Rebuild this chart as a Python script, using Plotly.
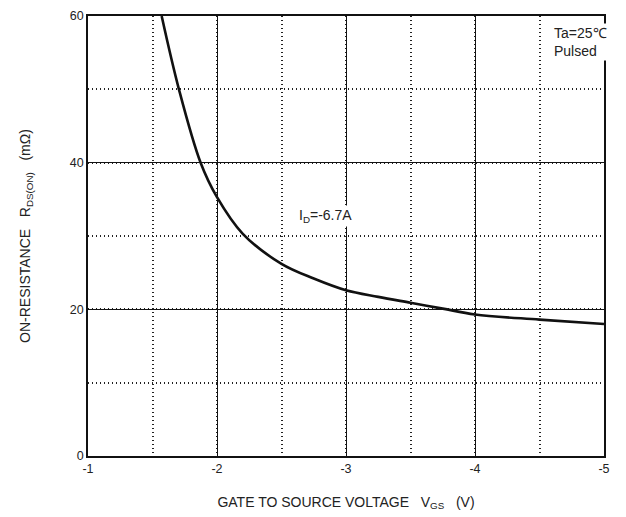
import plotly.graph_objects as go

vgs = [-1.571, -1.705, -1.873, -2.0, -2.2, -2.5, -2.75, -3.0, -3.25, -3.5, -3.75, -4.0, -4.5, -5.0]
rds = [60.0, 50.0, 40.0, 35.3, 30.3, 26.2, 24.2, 22.6, 21.7, 20.9, 20.1, 19.3, 18.6, 18.0]
x_ticks = [-1, -2, -3, -4, -5]
y_ticks = [0, 20, 40, 60]

font_family = "Liberation Sans, Arial, sans-serif"

fig = go.Figure()
fig.add_trace(go.Scatter(x=vgs, y=rds, mode="lines",
                         line=dict(color="#111111", width=2.6, shape="spline", smoothing=1.0),
                         showlegend=False, hoverinfo="skip"))

fig.update_layout(
    width=626, height=517,
    margin=dict(l=88, r=22, t=9, b=61),
    plot_bgcolor="white", paper_bgcolor="white",
    font=dict(family=font_family, size=12, color="#222222"),
    xaxis=dict(range=[-1, -5], tickvals=x_ticks, ticktext=[str(v) for v in x_ticks],
               showgrid=True, gridcolor="#111111", gridwidth=1,
               minor=dict(dtick=0.5, showgrid=True, gridcolor="#222222", griddash="1px,3px", gridwidth=1.5),
               showline=True, linecolor="#111111", linewidth=1.5, mirror=True,
               zeroline=False, ticks="", tickfont=dict(size=12.5),
               title=dict(text="GATE TO SOURCE VOLTAGE   V<sub>GS</sub>   (V)", font=dict(size=14), standoff=22)),
    yaxis=dict(range=[0, 60], tickvals=y_ticks, ticktext=[str(v) for v in y_ticks],
               showgrid=True, gridcolor="#111111", gridwidth=1,
               minor=dict(dtick=10, showgrid=True, gridcolor="#222222", griddash="1px,3px", gridwidth=1.5),
               showline=True, linecolor="#111111", linewidth=1.5, mirror=True,
               zeroline=False, ticks="", tickfont=dict(size=12.5),
               title=dict(text="ON-RESISTANCE   R<sub>DS(ON)</sub>   (mΩ)", font=dict(size=14), standoff=36)),
)

fig.add_annotation(x=-4.6, y=59.0, xref="x", yref="y", text="Ta=25℃<br>Pulsed",
                   showarrow=False, align="left", xanchor="left", yanchor="top",
                   font=dict(size=14, color="#222222"), bgcolor="white")
fig.add_annotation(x=-2.62, y=32.7, xref="x", yref="y", text="I<sub>D</sub>=-6.7A",
                   showarrow=False, xanchor="left", yanchor="middle",
                   font=dict(size=14, color="#222222"), bgcolor="white")

fig.write_html("out.html")
